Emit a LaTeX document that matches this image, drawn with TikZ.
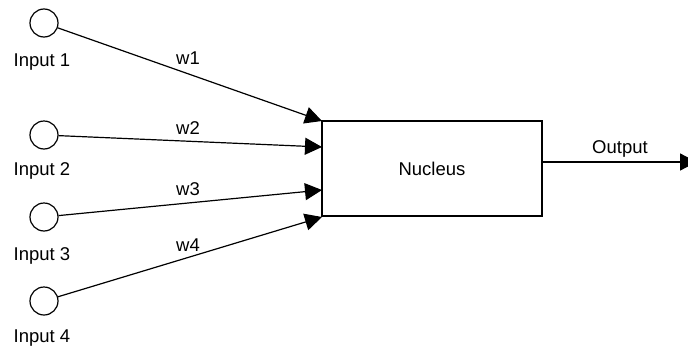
\documentclass[tikz,border=0pt]{standalone}
\usepackage{fontspec}
\setmainfont{Liberation Sans}
\usetikzlibrary{arrows.meta}
\begin{document}
\begin{tikzpicture}[x=1pt,y=-1pt,
  every node/.style={font=\fontsize{18.5}{22}\selectfont},
  inputnode/.style={circle,draw,line width=1.2pt,minimum size=28pt,inner sep=0pt},
  body/.style={draw,line width=1.2pt,minimum width=220pt,minimum height=95pt},
  link/.style={line width=1.2pt,-{Triangle[length=17pt,width=17pt]}}]
\useasboundingbox[fill=white] (0,0) rectangle (688,351);

% inputs
\node[inputnode] (in1) at (44,23) {};
\node[inputnode] (in2) at (44,135) {};
\node[inputnode] (in3) at (44,217) {};
\node[inputnode] (in4) at (44,301) {};
\node (l1) at (42,62) {Input 1};
\node (l2) at (42,171) {Input 2};
\node (l3) at (42,256) {Input 3};
\node (l4) at (42,338) {Input 4};

% nucleus
\node[body] (nuc) at (432,168.5) {Nucleus};

% arrow targets on the west side
\coordinate (t1) at (322,121);
\coordinate (t2) at (322,147);
\coordinate (t3) at (322,190);
\coordinate (t4) at (322,217);

\draw[link] (in1) -- (t1);
\draw[link] (in2) -- (t2);
\draw[link] (in3) -- (t3);
\draw[link] (in4) -- (t4);

% weights
\node (w1) at (188,58) {w1};
\node (w2) at (188,128) {w2};
\node (w3) at (188,189) {w3};
\node (w4) at (188,245) {w4};

% output
\coordinate (o1) at (543,162);
\coordinate (o2) at (697,162);
\draw[link] (o1) -- (o2);
\node (out) at (620,149) {Output};
\end{tikzpicture}
\end{document}
